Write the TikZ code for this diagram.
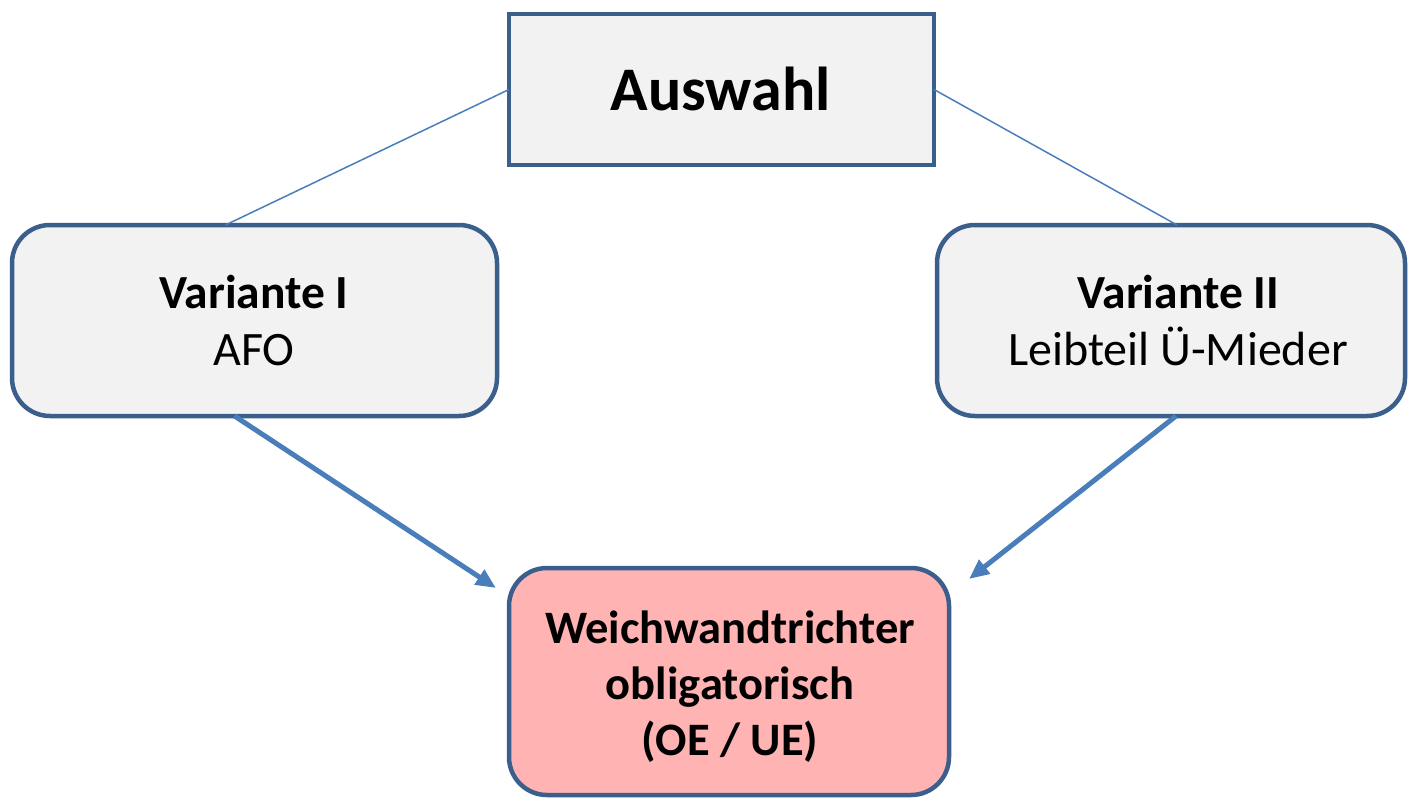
\documentclass[tikz,border=0pt]{standalone}
\usepackage{fontspec}
\setmainfont{Carlito}
\usetikzlibrary{arrows.meta}
\definecolor{bordc}{HTML}{3A5F8C}
\definecolor{linec}{HTML}{4A7EBB}
\definecolor{boxfill}{HTML}{F2F2F2}
\definecolor{pinkfill}{HTML}{FFB3B3}
\tikzset{
  box/.style={draw=bordc, line width=4.5pt, fill=boxfill, inner sep=0pt, outer sep=0pt},
  rbox/.style={box, rounded corners=38pt},
  txt/.style={align=center, inner sep=0pt, text=black},
  thin/.style={draw=linec, line width=1.5pt},
  thick/.style={draw=linec, line width=5pt, -{Triangle[length=20pt,width=17pt]}}
}
\begin{document}
\begin{tikzpicture}[x=1pt,y=-1pt]
\useasboundingbox (0,0) rectangle (1408,798);
% boxes
\node[box, minimum width=425pt, minimum height=151pt] (aus) at (721.5,89.5) {};
\node[rbox, minimum width=485pt, minimum height=191pt] (v1) at (254.5,320.5) {};
\node[rbox, minimum width=468pt, minimum height=191pt] (v2) at (1171,320.5) {};
\node[rbox, fill=pinkfill, minimum width=440pt, minimum height=227pt] (ww) at (729,681.5) {};
% texts
\node[txt, anchor=base, font=\fontsize{62}{70}\selectfont\bfseries] (tAus) at (720.5,110) {Auswahl};
\node[txt, anchor=base, font=\fontsize{48}{57}\selectfont] (tV1) at (254,365) {{\fontsize{47.5}{57}\selectfont\bfseries Variante I}\\AFO};
\node[txt, anchor=base, font=\fontsize{48}{57}\selectfont] (tV2) at (1178,365) {{\fontsize{47.5}{57}\selectfont\bfseries Variante II}\\Leibteil Ü-Mieder};
\node[txt, anchor=base, font=\fontsize{46.5}{56}\selectfont\bfseries] (tWW) at (730,755) {Weichwandtrichter\\obligatorisch\\(OE / UE)};
% connectors
\coordinate (tipL) at (496,588);
\coordinate (tipR) at (969,579);
\draw[thin] (aus.west) -- ([xshift=-29pt]v1.north);
\draw[thin] (aus.east) -- ([xshift=6pt]v2.north);
\draw[thick] ([xshift=-20pt]v1.south) -- (tipL);
\draw[thick] ([xshift=5pt]v2.south) -- (tipR);
\end{tikzpicture}
\end{document}
